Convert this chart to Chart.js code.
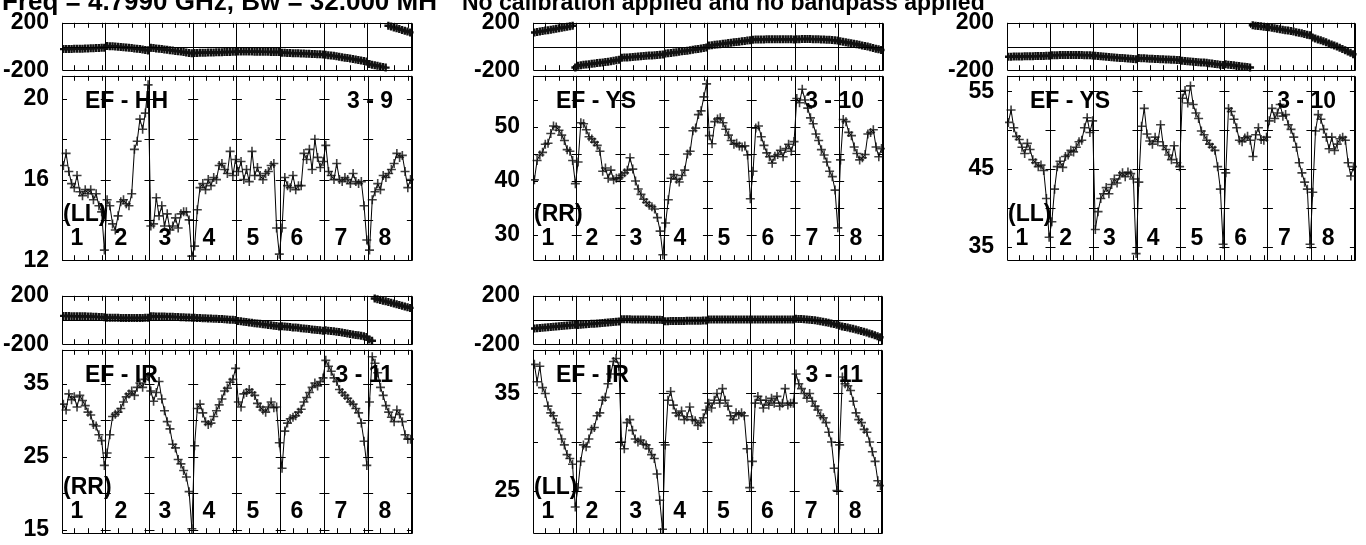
<!DOCTYPE html>
<html>
<head>
<meta charset="utf-8">
<script src="https://cdn.jsdelivr.net/npm/chart.js@4.4.1/dist/chart.umd.min.js"></script>
<style>
  html, body { margin: 0; padding: 0; background: #fff; }
  body { position: relative; width: 1366px; height: 545px; overflow: hidden; }
  canvas { position: absolute; }
  .txt { position: absolute; font-family: "Liberation Sans", Arial, sans-serif; font-weight: bold; color: #000; white-space: pre; }
</style>
</head>
<body>
<script>
// 8 IFs, 16 channels each, one value per channel
const IF_NAMES = ["1", "2", "3", "4", "5", "6", "7", "8"];
const CHAN_PER_IF = 16;
const PHASE_TICKS = [-200, 200];

// EF - HH (LL)
const phsHH_LL = [
  -22, -22, -21, -21, -20, -20, -19, -18, -17, -16, -15, -14, -13, -12, -11, -10,
  4, 3, 2, 0, -2, -4, -6, -8, -10, -13, -16, -19, -22, -25, -29, -33,
  -10, -13, -16, -19, -22, -25, -28, -31, -34, -37, -40, -43, -46, -50, -54, -58,
  -55, -54, -53, -52, -52, -51, -50, -50, -49, -48, -48, -47, -46, -46, -45, -45,
  -42, -42, -42, -43, -43, -43, -44, -44, -44, -45, -45, -45, -46, -46, -47, -47,
  -52, -53, -54, -55, -56, -57, -58, -59, -60, -61, -62, -63, -64, -65, -66, -67,
  -70, -73, -76, -79, -83, -86, -90, -94, -98, -102, -106, -110, -114, -118, -122, -126,
  -148, -153, -158, -163, -168, -173, -178, 175, 168, 161, 154, 147, 140, 133, 126, 119
];
const ampHH_LL = [
  16.7, 17.3, 16.4, 15.8, 15.6, 16.2, 15.4, 15.2, 15.5, 15.3, 15.5, 15.0, 15.3, 14.7, 14.4, 12.5,
  15.0, 14.7, 13.8, 13.5, 14.2, 14.9, 15.0, 14.8, 14.7, 15.3, 17.5, 17.9, 19.0, 18.5, 19.3, 20.7,
  13.7, 13.8, 15.1, 14.2, 14.7, 13.7, 14.3, 13.5, 13.7, 14.1, 13.6, 14.3, 14.4, 14.4, 14.0, 12.2,
  12.7, 14.5, 15.6, 15.8, 15.5, 16.0, 15.7, 16.1, 16.0, 16.7, 16.8, 16.5, 16.3, 17.4, 16.2, 17.0,
  16.4, 16.9, 16.0, 16.5, 15.9, 17.4, 16.2, 16.6, 16.2, 16.0, 16.3, 16.4, 16.7, 16.8, 13.6, 12.3,
  13.6, 16.1, 15.7, 15.6, 16.2, 15.5, 15.7, 15.7, 17.3, 17.0, 17.5, 16.5, 18.0, 17.1, 16.6, 16.9,
  17.7, 16.4, 16.2, 16.0, 16.8, 16.0, 15.9, 16.1, 16.0, 15.8, 16.3, 15.9, 15.8, 15.9, 14.7, 13.0,
  12.5, 15.0, 15.4, 15.8, 15.5, 16.2, 16.1, 16.3, 16.5, 16.8, 17.3, 17.1, 17.2, 16.4, 15.6, 16.0
];
const ampTicksHH_LL = [12, 16, 20];
const ampMinorHH_LL = [12, 14, 16, 18, 20];

// EF - YS (RR)
const phsYS_RR = [
  118, 122, 126, 130, 134, 138, 142, 146, 150, 154, 158, 162, 166, 170, 175, -177,
  -162, -158, -155, -152, -149, -146, -143, -140, -137, -134, -131, -128, -124, -120, -116, -112,
  -95, -93, -92, -90, -88, -86, -85, -83, -81, -79, -77, -75, -73, -71, -69, -67,
  -60, -57, -54, -51, -48, -45, -41, -38, -35, -31, -28, -24, -21, -17, -13, -9,
  8, 11, 14, 17, 20, 23, 26, 29, 32, 35, 38, 41, 44, 47, 50, 53,
  58, 59, 59, 60, 60, 61, 61, 61, 61, 61, 61, 61, 61, 61, 61, 60,
  62, 62, 63, 63, 63, 63, 62, 62, 61, 60, 59, 58, 56, 54, 52, 50,
  44, 40, 36, 32, 28, 24, 19, 14, 9, 4, -1, -6, -12, -18, -24, -30
];
const ampYS_RR = [
  40.2, 43.8, 44.8, 45.3, 46.8, 47.0, 48.8, 50.2, 50.0, 49.4, 48.5, 47.5, 45.8, 45.5, 43.8, 39.5,
  43.5, 50.8, 50.6, 49.5, 48.2, 47.8, 47.2, 46.6, 45.5, 41.8, 42.4, 40.5, 42.0, 40.2, 40.5, 40.6,
  41.0, 41.5, 42.0, 44.3, 42.2, 40.0, 38.5, 37.5, 36.6, 36.0, 35.5, 35.2, 34.8, 33.2, 30.7, 26.3,
  32.2, 36.5, 40.5, 41.2, 40.3, 39.8, 41.0, 42.0, 45.0, 45.5, 49.3, 49.8, 52.3, 53.0, 55.6, 58.0,
  48.4, 46.9, 51.0, 51.5, 51.7, 50.8, 49.6, 48.5, 47.5, 46.8, 47.0, 46.5, 46.3, 46.5, 44.8, 36.7,
  41.8, 49.8, 50.2, 48.2, 46.6, 45.2, 44.5, 43.3, 44.6, 44.9, 45.7, 44.5, 46.0, 46.8, 45.5, 47.3,
  55.3, 54.5, 57.0, 55.0, 53.5, 51.7, 50.6, 48.7, 47.5, 45.8, 44.8, 43.5, 41.8, 40.8, 38.3, 31.3,
  43.9, 51.4, 51.0, 49.0, 48.4, 46.3, 45.1, 43.9, 44.3, 44.9, 48.7, 49.0, 49.5, 46.3, 44.5, 46.0
];
const ampTicksYS_RR = [30, 40, 50];
const ampMinorYS_RR = [30, 35, 40, 45, 50, 55];

// EF - YS (LL)
const phsYS_LL = [
  -86, -86, -85, -85, -84, -84, -83, -83, -82, -82, -81, -81, -80, -80, -79, -79,
  -74, -73, -73, -72, -72, -71, -71, -71, -71, -71, -72, -72, -73, -73, -74, -75,
  -78, -80, -82, -84, -86, -88, -90, -92, -94, -96, -98, -100, -102, -104, -106, -108,
  -98, -99, -100, -101, -103, -104, -105, -106, -107, -108, -109, -110, -111, -112, -113, -114,
  -120, -122, -124, -126, -128, -130, -132, -134, -136, -138, -141, -144, -147, -150, -153, -156,
  -150, -153, -156, -159, -162, -165, -168, -171, -174, -177, 179, 176, 173, 170, 167, 164,
  162, 158, 154, 150, 146, 142, 138, 134, 130, 126, 121, 116, 111, 106, 100, 94,
  76, 68, 60, 52, 44, 35, 26, 17, 8, -1, -11, -21, -31, -42, -53, -65
];
const ampYS_LL = [
  51.0, 52.6, 50.3, 49.2, 48.8, 47.8, 47.0, 48.3, 47.5, 46.2, 45.8, 45.3, 45.5, 44.8, 41.2, 36.2,
  38.2, 42.4, 45.3, 46.0, 45.2, 46.6, 46.8, 47.4, 47.2, 47.8, 48.5, 48.7, 50.3, 51.6, 49.7, 51.2,
  37.2, 39.5, 41.2, 41.8, 42.6, 41.8, 43.0, 43.7, 43.2, 44.2, 44.5, 44.0, 44.6, 44.4, 43.7, 34.1,
  43.3, 50.5, 52.8, 49.5, 48.6, 48.2, 49.1, 48.5, 50.7, 48.0, 47.5, 46.8, 46.2, 48.0, 45.8, 45.3,
  54.1, 55.1, 53.5, 55.7, 53.3, 52.2, 51.5, 49.9, 49.4, 48.7, 48.2, 47.8, 47.4, 45.3, 42.4, 35.3,
  44.5, 52.8, 52.4, 51.4, 50.3, 48.7, 48.5, 49.0, 49.2, 48.7, 46.6, 49.4, 50.3, 48.8, 48.7, 49.1,
  51.2, 52.8, 51.5, 52.2, 53.3, 51.8, 52.0, 50.7, 50.1, 49.1, 47.8, 45.8, 44.5, 43.3, 42.4, 35.3,
  42.0, 49.9, 52.0, 51.4, 50.1, 49.1, 47.6, 49.1, 47.4, 48.2, 48.9, 49.1, 48.7, 45.8, 44.1, 45.3
];
const ampTicksYS_LL = [35, 45, 55];
const ampMinorYS_LL = [35, 40, 45, 50, 55];

// EF - IR (RR)
const phsIR_RR = [
  34, 33, 33, 32, 32, 31, 31, 30, 30, 29, 28, 27, 26, 25, 24, 23,
  19, 19, 18, 18, 18, 17, 17, 17, 17, 17, 17, 17, 17, 17, 18, 18,
  30, 30, 29, 29, 28, 28, 27, 27, 26, 25, 24, 23, 22, 21, 20, 19,
  18, 17, 16, 15, 14, 13, 12, 11, 10, 9, 8, 6, 5, 3, 2, 0,
  -8, -11, -14, -17, -20, -23, -26, -29, -32, -35, -38, -41, -44, -47, -50, -53,
  -52, -54, -56, -58, -61, -63, -65, -68, -70, -73, -75, -78, -80, -83, -85, -88,
  -85, -88, -91, -94, -97, -100, -104, -107, -111, -115, -119, -123, -127, -131, -135, -140,
  -162, -172, 178, 172, 166, 160, 154, 148, 142, 136, 130, 124, 118, 112, 106, 100
];
const ampIR_RR = [
  32.2, 31.4, 33.6, 32.8, 33.2, 31.8, 33.4, 32.7, 32.0, 31.1, 30.7, 29.4, 29.2, 28.0, 27.2, 23.8,
  25.5, 28.0, 30.5, 30.8, 31.1, 31.6, 32.5, 33.2, 33.6, 34.0, 33.4, 34.5, 35.1, 34.5, 35.6, 36.0,
  34.0, 32.6, 33.8, 35.3, 32.9, 31.3, 29.8, 28.8, 26.7, 26.2, 24.6, 24.0, 23.1, 22.2, 20.2, 15.1,
  26.5, 31.6, 32.2, 31.0, 29.8, 29.4, 29.6, 30.5, 31.3, 32.1, 32.9, 34.0, 34.4, 35.2, 35.6, 37.1,
  32.5, 31.8, 33.6, 33.8, 34.2, 33.8, 33.4, 32.3, 31.8, 31.4, 31.1, 31.8, 32.5, 31.7, 31.8, 26.9,
  23.4, 28.5, 29.6, 30.2, 30.4, 30.6, 31.1, 31.5, 32.5, 33.1, 33.8, 34.5, 35.1, 34.7, 35.3, 35.8,
  38.2, 37.4, 36.7, 35.8, 35.3, 34.2, 33.8, 33.4, 33.0, 32.5, 32.2, 31.6, 31.0, 29.6, 27.1, 23.8,
  32.5, 38.7, 37.8, 36.5, 34.5, 33.4, 32.0, 31.1, 30.4, 29.8, 31.4, 30.8, 29.8, 28.0, 27.4, 27.4
];
const ampTicksIR_RR = [15, 25, 35];
const ampMinorIR_RR = [15, 20, 25, 30, 35];

// EF - IR (LL)
const phsIR_LL = [
  -70, -68, -66, -64, -62, -60, -58, -56, -54, -52, -50, -48, -46, -44, -42, -40,
  -42, -40, -38, -36, -34, -32, -30, -28, -26, -24, -22, -20, -18, -16, -14, -12,
  6, 6, 6, 6, 5, 5, 5, 5, 4, 4, 4, 3, 3, 2, 2, 1,
  -10, -10, -9, -9, -9, -8, -8, -8, -7, -7, -7, -6, -6, -6, -5, -5,
  4, 4, 5, 5, 5, 5, 5, 5, 5, 5, 5, 5, 5, 5, 5, 4,
  5, 5, 5, 5, 5, 5, 5, 5, 5, 5, 5, 5, 5, 5, 5, 5,
  10, 9, 8, 6, 4, 2, 0, -3, -6, -10, -14, -18, -23, -28, -33, -39,
  -48, -53, -58, -63, -68, -73, -79, -85, -91, -97, -104, -111, -118, -126, -134, -142
];
const ampIR_LL = [
  38.0, 36.2, 37.8, 35.6, 35.0, 33.7, 33.0, 32.7, 32.0, 31.3, 30.3, 29.7, 28.7, 28.3, 27.7, 23.3,
  25.3, 28.0, 29.7, 29.5, 30.3, 31.3, 31.5, 32.7, 33.0, 34.3, 34.6, 36.0, 37.0, 38.3, 38.6, 37.8,
  30.0, 29.3, 32.0, 32.3, 31.2, 30.3, 30.0, 30.2, 29.8, 29.7, 29.3, 28.7, 28.3, 26.7, 24.0, 21.0,
  29.7, 34.3, 35.2, 33.8, 33.0, 32.7, 33.2, 32.3, 32.6, 33.6, 32.3, 32.2, 31.7, 32.0, 32.5, 33.3,
  34.0, 33.5, 34.3, 35.0, 34.0, 35.5, 34.3, 33.7, 32.7, 32.3, 33.0, 32.8, 33.0, 32.7, 29.3, 25.3,
  28.0, 34.0, 34.7, 34.3, 33.5, 34.3, 33.8, 34.5, 34.0, 34.7, 33.7, 34.0, 35.5, 33.8, 34.0, 34.0,
  37.0, 36.0, 35.5, 35.0, 34.5, 35.0, 34.2, 33.7, 33.3, 32.7, 32.5, 32.0, 31.0, 30.0, 27.3, 25.0,
  29.7, 36.7, 36.0, 35.8, 35.3, 34.2, 33.0, 32.3, 32.0, 31.3, 31.0, 30.0, 29.0, 28.0, 26.0, 25.5
];
const ampTicksIR_LL = [25, 35];
const ampMinorIR_LL = [25, 30, 35];

const TITLE_LEFT = "Freq = 4.7990 GHz, Bw = 32.000 MH";
const TITLE_RIGHT = "No calibration applied and no bandpass applied";

// layout of the five panels (pixel boxes)
const panels = [
  { base: "EF - HH", scan: "3 - 9", pol: "(LL)", phs: phsHH_LL, amp: ampHH_LL, ticks: ampTicksHH_LL, minor: ampMinorHH_LL,
    yMin: 12, yMax: 21.15, left: 62, right: 414, top: 20, mid: 73, bottom: 263 },
  { base: "EF - YS", scan: "3 - 10", pol: "(RR)", phs: phsYS_RR, amp: ampYS_RR, ticks: ampTicksYS_RR, minor: ampMinorYS_RR,
    yMin: 25.3, yMax: 59.5, left: 533, right: 885, top: 20, mid: 73, bottom: 263 },
  { base: "EF - YS", scan: "3 - 10", pol: "(LL)", phs: phsYS_LL, amp: ampYS_LL, ticks: ampTicksYS_LL, minor: ampMinorYS_LL,
    yMin: 33.25, yMax: 57.0, left: 1007, right: 1357, top: 20, mid: 73, bottom: 263 },
  { base: "EF - IR", scan: "3 - 11", pol: "(RR)", phs: phsIR_RR, amp: ampIR_RR, ticks: ampTicksIR_RR, minor: ampMinorIR_RR,
    yMin: 14.5, yMax: 39.65, left: 62, right: 414, top: 293, mid: 347, bottom: 536 },
  { base: "EF - IR", scan: "3 - 11", pol: "(LL)", phs: phsIR_LL, amp: ampIR_LL, ticks: ampTicksIR_LL, minor: ampMinorIR_LL,
    yMin: 20.6, yMax: 39.5, left: 533, right: 884, top: 293, mid: 347, bottom: 536 }
];

const AXIS_W = 62;
const PAD = 16;
const PAD_R = 4;
const NCH = IF_NAMES.length * CHAN_PER_IF;
const FONT = "'Liberation Sans', Arial, sans-serif";

// AIPS style frame: box, zero line, x ticks in every IF, y ticks on both sides of each IF edge
const possmFrame = {
  id: "possmFrame",
  afterDatasetsDraw(chart, args, opts) {
    const { ctx, chartArea: a, scales } = chart;
    const xs = scales.x, ys = scales.y;
    const px = (v) => Math.round(v) + 0.5;
    ctx.save();
    ctx.strokeStyle = "#000";
    ctx.lineWidth = 1;
    ctx.beginPath();
    ctx.rect(px(a.left), px(a.top), Math.round(a.right) - Math.round(a.left), Math.round(a.bottom) - Math.round(a.top));
    if (opts.zero) {
      const y0 = px(ys.getPixelForValue(0));
      ctx.moveTo(a.left, y0); ctx.lineTo(a.right, y0);
    }
    for (let k = 0; k < IF_NAMES.length; k++) {
      [4.5, 9.5, 14.5].forEach((c) => {
        const x = px(xs.getPixelForValue(k * CHAN_PER_IF + c));
        ctx.moveTo(x, a.top); ctx.lineTo(x, a.top + 5);
        ctx.moveTo(x, a.bottom); ctx.lineTo(x, a.bottom - 5);
      });
    }
    (opts.minor || []).forEach((v) => {
      const y = px(ys.getPixelForValue(v));
      for (let k = 0; k <= IF_NAMES.length; k++) {
        const x = xs.getPixelForValue(k * CHAN_PER_IF);
        ctx.moveTo(Math.max(x - 5, a.left), y);
        ctx.lineTo(Math.min(x + 5, a.right), y);
      }
    });
    ctx.stroke();
    ctx.restore();
  }
};

function addCanvas(left, top, w, h) {
  const c = document.createElement("canvas");
  c.width = w; c.height = h;
  c.style.left = left + "px"; c.style.top = top + "px";
  c.style.width = w + "px"; c.style.height = h + "px";
  document.body.appendChild(c);
  return c;
}

function makeChart(p, values, isPhase) {
  const boxTop = isPhase ? p.top : p.mid;
  const boxBottom = isPhase ? p.mid : p.bottom;
  const w = AXIS_W + (p.right - p.left) + PAD_R;
  const h = (boxBottom - boxTop) + 2 * PAD;
  const canvas = addCanvas(p.left - AXIS_W, boxTop - PAD, w, h);
  const labelTicks = isPhase ? PHASE_TICKS : p.ticks;
  const pts = values.map((v, i) => ({ x: i + 0.5, y: v }));

  return new Chart(canvas, {
    type: "line",
    data: {
      datasets: [{
        data: pts,
        borderColor: "#000",
        borderWidth: 1,
        tension: 0,
        fill: false,
        clip: 2,
        pointStyle: "cross",
        pointRadius: isPhase ? 4 : 4.5,
        pointBorderWidth: isPhase ? 2.4 : 1.6,
        pointBorderColor: isPhase ? "#111" : "rgba(15,15,15,0.8)",
        // do not draw the jump where the phase wraps round
        segment: isPhase ? {
          borderColor: (s) => Math.abs(s.p1.parsed.y - s.p0.parsed.y) > 180 ? "transparent" : "#000"
        } : undefined
      }]
    },
    plugins: [possmFrame],
    options: {
      responsive: false,
      animation: false,
      events: [],
      layout: { padding: { top: PAD, bottom: PAD, left: 0, right: PAD_R } },
      scales: {
        x: {
          type: "linear",
          min: 0,
          max: NCH,
          afterBuildTicks: (s) => { s.ticks = IF_NAMES.map((n, k) => ({ value: k * CHAN_PER_IF })).concat([{ value: NCH }]); },
          afterFit: (s) => { s.height = 0; },
          ticks: { display: false },
          grid: { color: "#000", lineWidth: 1, drawTicks: false },
          border: { display: false }
        },
        y: {
          type: "linear",
          min: isPhase ? -200 : p.yMin,
          max: isPhase ? 200 : p.yMax,
          afterBuildTicks: (s) => { s.ticks = labelTicks.map((v) => ({ value: v })); },
          afterFit: (s) => { s.width = AXIS_W; },
          ticks: {
            color: "#000",
            padding: 5,
            font: { family: FONT, size: 23, weight: "bold" },
            callback: (v) => String(v)
          },
          grid: { display: false },
          border: { display: false }
        }
      },
      plugins: {
        legend: { display: false },
        tooltip: { enabled: false },
        possmFrame: { minor: isPhase ? [] : p.minor, zero: isPhase }
      }
    }
  });
}

function addText(txt, x, cy, size, align) {
  const d = document.createElement("div");
  d.className = "txt";
  d.textContent = txt;
  d.style.fontSize = size + "px";
  d.style.lineHeight = size + "px";
  d.style.top = (cy - size * 0.4885) + "px";
  if (align === "right") {
    d.style.right = (1366 - x) + "px";
  } else if (align === "center") {
    d.style.left = x + "px";
    d.style.transform = "translateX(-50%)";
  } else {
    d.style.left = x + "px";
  }
  document.body.appendChild(d);
  return d;
}

panels.forEach((p) => {
  makeChart(p, p.phs, true);
  makeChart(p, p.amp, false);
  const ifW = (p.right - p.left) / IF_NAMES.length;
  addText(p.base, p.left + 23, p.mid + 27, 23, "left");
  addText(p.scan, p.right - 21, p.mid + 27, 23, "right");
  addText(p.pol, p.left + 1, p.bottom - 50, 23, "left");
  IF_NAMES.forEach((n, k) => addText(n, p.left + k * ifW + 15, p.bottom - 26, 23, "center"));
});

// page title, cut by the top edge as in the original plot
addText(TITLE_LEFT, 2, 10 - 26 * 0.358, 26, "left");
addText(TITLE_RIGHT, 462, 10 - 23 * 0.358, 23, "left");
</script>
</body>
</html>
